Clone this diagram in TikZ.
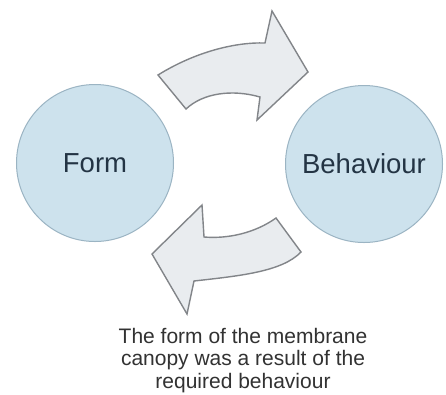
\documentclass[tikz,border=0pt]{standalone}
\usepackage{fontspec}
\setmainfont{Liberation Sans}
\definecolor{bubblefill}{RGB}{205,226,237}
\definecolor{bubbleline}{RGB}{155,180,195}
\definecolor{bubbletext}{RGB}{35,52,68}
\definecolor{arrowfill}{RGB}{233,236,239}
\definecolor{arrowline}{RGB}{130,133,137}
\definecolor{notetext}{RGB}{50,50,50}
\begin{document}
\begin{tikzpicture}[x=1pt,y=-1pt,
  bubble/.style={circle,draw=bubbleline,line width=1pt,fill=bubblefill,
    minimum size=157pt,inner sep=0pt,text=bubbletext,
    font=\fontsize{27.5}{30}\selectfont},
  bigarrow/.style={draw=arrowline,fill=arrowfill,line width=1.4pt,line join=miter},
  note/.style={align=center,inner sep=0pt,text=notetext,
    font=\fontsize{21}{22.3}\selectfont}]
\useasboundingbox (0,0) rectangle (446,394);
\fill[white] (0,0) rectangle (446,394);

% the two states
\node[bubble] (form) at (95,163) {Form};
\node[bubble] (behav) at (364,164) {Behaviour};

% outline of the upper curved arrow
\coordinate (ua) at (158,75);
\coordinate (ub) at (265,43);
\coordinate (uc) at (272,11);
\coordinate (ud) at (308,72);
\coordinate (ue) at (257,120);
\coordinate (uf) at (260,97);
\coordinate (ug) at (186,109);
\draw[bigarrow] (ua) .. controls (195,52) and (235,42) .. (ub)
  -- (uc) -- (ud) -- (ue) -- (uf)
  .. controls (232,89) and (203,93) .. (ug) -- cycle;

% outline of the lower curved arrow
\coordinate (la) at (276,218);
\coordinate (lb) at (204,237);
\coordinate (lc) at (202,205);
\coordinate (ld) at (152,254);
\coordinate (le) at (187,314);
\coordinate (lf) at (194,281);
\coordinate (lg) at (301,252);
\draw[bigarrow] (la) .. controls (255,233) and (228,239) .. (lb)
  -- (lc) -- (ld) -- (le) -- (lf)
  .. controls (238,276) and (282,272) .. (lg) -- cycle;

% caption
\node[note,anchor=north] (caption) at (243,328)
  {The form of the membrane\\canopy was a result of the\\required behaviour};
\end{tikzpicture}
\end{document}
